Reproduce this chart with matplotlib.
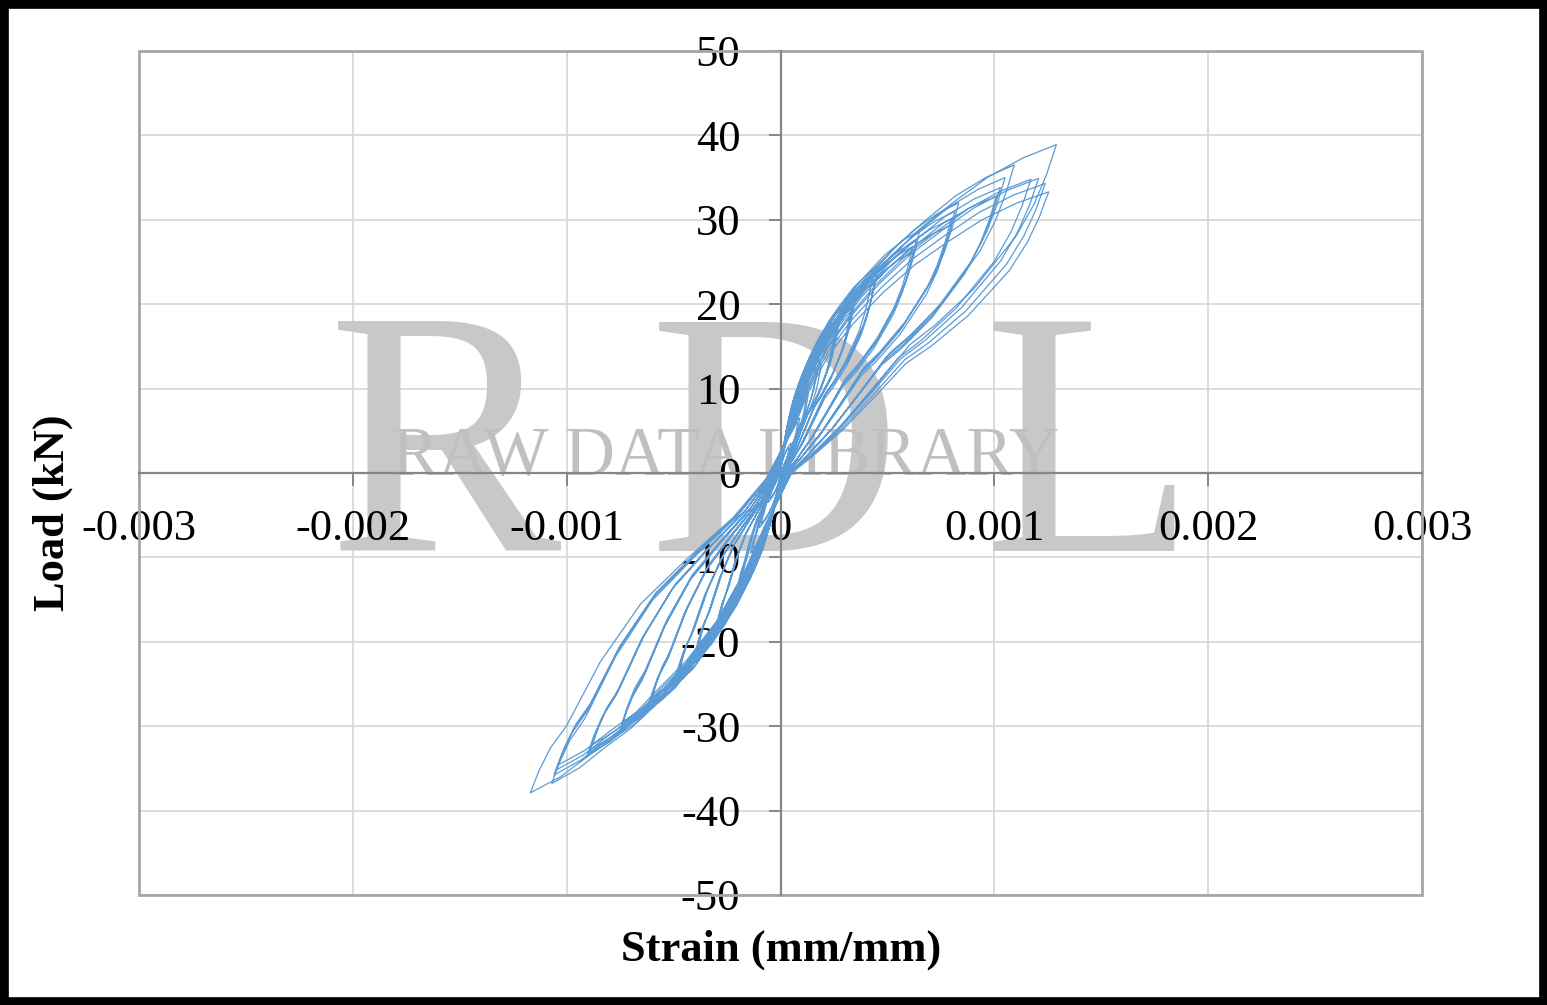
import numpy as np
import matplotlib
matplotlib.use("Agg")
import matplotlib.pyplot as plt
from matplotlib.patches import Rectangle
from matplotlib.ticker import FixedLocator, FuncFormatter

# peak points of each load cycle (strain in mm/mm, load in kN)
pos_peak_strain = [0.00004, 0.00005, 0.00008, 0.00009, 0.00012, 0.00013,
                   0.00018, 0.00017, 0.00019,
                   0.000276, 0.00027, 0.00026, 0.00025,
                   0.000354, 0.000345, 0.00034, 0.00033,
                   0.000455, 0.00045, 0.00043, 0.00044,
                   0.00065, 0.000635, 0.000617, 0.00062,
                   0.000833, 0.000815, 0.000798, 0.0008,
                   0.001093, 0.00105, 0.001028, 0.00101,
                   0.00129, 0.001254, 0.001238, 0.001207, 0.001171]
pos_peak_load = [3.0, 3.5, 6.0, 6.5, 9.0, 9.5,
                 13.5, 12.5, 13.0,
                 18.5, 17.8, 17.2, 16.5,
                 21.4, 20.8, 20.2, 19.6,
                 24.4, 23.8, 23.3, 22.6,
                 28.7, 27.5, 26.8, 26.2,
                 32.0, 31.0, 30.1, 29.4,
                 36.5, 35.0, 33.8, 32.8,
                 38.9, 33.3, 34.3, 34.9, 34.8]
neg_peak_strain = [-0.00005, -0.00006, -0.00009, -0.0001, -0.00013, -0.00014,
                   -0.00019, -0.00018, -0.0002,
                   -0.0003, -0.000295, -0.00029, -0.00028,
                   -0.0004, -0.000395, -0.00039, -0.00038,
                   -0.000495, -0.000485, -0.00048, -0.00047,
                   -0.000625, -0.000615, -0.00061, -0.0006,
                   -0.000756, -0.00075, -0.000745, -0.00074,
                   -0.000905, -0.000895, -0.00089, -0.00088,
                   -0.00117, -0.00107, -0.00106, -0.00105, -0.00104]
neg_peak_load = [-3.0, -3.5, -6.0, -6.5, -9.0, -9.5,
                 -13.0, -12.5, -13.5,
                 -18.2, -17.9, -17.5, -16.8,
                 -21.5, -21.1, -20.8, -20.2,
                 -24.7, -24.2, -23.8, -23.2,
                 -28.2, -27.8, -27.3, -26.6,
                 -31.0, -30.6, -30.2, -29.6,
                 -33.5, -33.1, -32.8, -32.2,
                 -37.9, -36.8, -35.8, -35.2, -34.6]

# branch shapes read from the loop envelopes, as fractions of a loop's peak
pos_load_fs = [0.05, 0.10, 0.18, 0.27, 0.38, 0.50, 0.62, 0.75, 0.88, 1.00]
pos_load_fl = [0.16, 0.28, 0.42, 0.53, 0.64, 0.74, 0.82, 0.90, 0.96, 1.00]
pos_unload_fs = [0.965, 0.92, 0.853, 0.70, 0.56, 0.468, 0.35, 0.232, 0.12, 0.04]
pos_unload_fl = [0.91, 0.82, 0.72, 0.56, 0.45, 0.39, 0.27, 0.153, 0.06, 0.00]
neg_load_fs = [0.07, 0.15, 0.28, 0.42, 0.55, 0.65, 0.76, 0.88, 1.00]
neg_load_fl = [0.18, 0.32, 0.50, 0.64, 0.74, 0.82, 0.88, 0.95, 1.00]
neg_unload_fs = [0.965, 0.92, 0.855, 0.72, 0.56, 0.376, 0.19, 0.06]
neg_unload_fl = [0.93, 0.86, 0.79, 0.59, 0.41, 0.27, 0.14, 0.02]

x_ticks = [-0.003, -0.002, -0.001, 0, 0.001, 0.002, 0.003]
y_ticks = [-50, -40, -30, -20, -10, 0, 10, 20, 30, 40, 50]

strain = [0.0]
load = [0.0]
for i in range(len(pos_peak_strain)):
    xp, yp = pos_peak_strain[i], pos_peak_load[i]
    xn, yn = neg_peak_strain[i], neg_peak_load[i]
    strain += [f * xp for f in pos_load_fs] + [f * xp for f in pos_unload_fs]
    load += [f * yp for f in pos_load_fl] + [f * yp for f in pos_unload_fl]
    strain += [f * xn for f in neg_load_fs] + [f * xn for f in neg_unload_fs]
    load += [f * yn for f in neg_load_fl] + [f * yn for f in neg_unload_fl]

plt.rcParams['font.family'] = ['Liberation Serif', 'DejaVu Serif']

fig = plt.figure(figsize=(15.47, 10.05), dpi=100)
ax = fig.add_axes([0.0899, 0.1095, 0.8293, 0.8398])

ax.plot(strain, load, color='#5b9bd5', linewidth=0.9, zorder=3)

ax.set_xlim(-0.003, 0.003)
ax.set_ylim(-50, 50)
ax.xaxis.set_major_locator(FixedLocator(x_ticks))
ax.yaxis.set_major_locator(FixedLocator(y_ticks))
ax.xaxis.set_major_formatter(FuncFormatter(lambda v, p: "0" if abs(v) < 1e-12 else f"{v:.3f}"))
ax.yaxis.set_major_formatter(FuncFormatter(lambda v, p: f"{v:.0f}"))

# gridlines drawn by hand so they sit under the watermark
for v in x_ticks:
    ax.axvline(v, color='#d9d9d9', linewidth=1.3, zorder=0.5)
for v in y_ticks:
    ax.axhline(v, color='#d9d9d9', linewidth=1.3, zorder=0.5)

# axes crossing at zero
for s in ['top', 'right']:
    ax.spines[s].set_visible(False)
ax.spines['left'].set_position(('data', 0))
ax.spines['bottom'].set_position(('data', 0))
for s in ['left', 'bottom']:
    ax.spines[s].set_color('#868686')
    ax.spines[s].set_linewidth(1.6)
    ax.spines[s].set_zorder(2.5)
ax.tick_params(axis='both', direction='out', length=9, width=1.4, color='#868686',
               labelsize=32, labelcolor='black')
ax.tick_params(axis='x', pad=17)
ax.tick_params(axis='y', pad=20)

# outer plot-area frame
ax.add_patch(Rectangle((0, 0), 1, 1, transform=ax.transAxes, fill=False,
                       edgecolor='#a6a6a6', linewidth=2.0, clip_on=False, zorder=2))

# watermark
for letter, xpos in [('R', 0.238), ('D', 0.496), ('L', 0.741)]:
    ax.text(xpos, 0.508, letter, transform=ax.transAxes, fontsize=252,
            color='#c8c8c8', ha='center', va='center', zorder=1)
ax.text(0.457, 0.518, 'RAW DATA LIBRARY', transform=ax.transAxes, fontsize=50,
        color='#c0c0c0', ha='center', va='center', zorder=1)

fig.text(0.505, 0.055, 'Strain (mm/mm)', fontsize=32, fontweight='bold',
         ha='center', va='center')
fig.text(0.034, 0.49, 'Load (kN)', fontsize=32, fontweight='bold',
         ha='center', va='center', rotation=90)

# black border round the figure
fig.patches.append(Rectangle((0, 0), 1, 1, transform=fig.transFigure, fill=False,
                             edgecolor='black', linewidth=12, zorder=10))

fig.savefig('out.png', dpi=100)
